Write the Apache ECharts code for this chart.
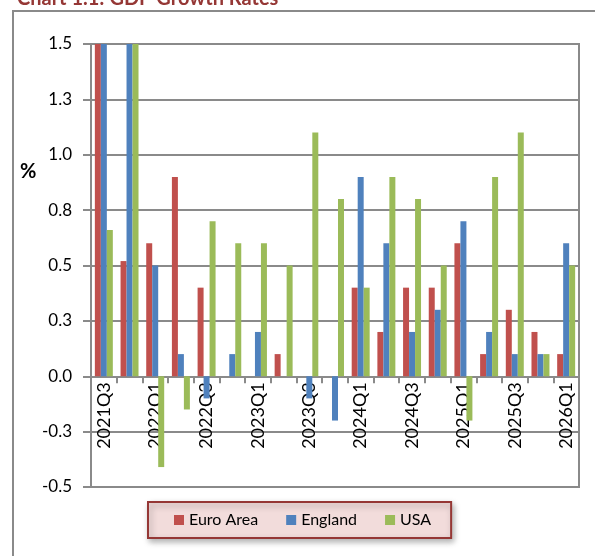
<!DOCTYPE html>
<html>
<head>
<meta charset="utf-8">
<script src="https://cdn.jsdelivr.net/npm/echarts@6/dist/echarts.min.js"></script>
<style>
  html, body { margin: 0; padding: 0; background: #fff; }
  #chart { width: 595px; height: 556px; }
</style>
</head>
<body>
<div id="chart"></div>
<script>
const categories = ["2021Q3", "2021Q4", "2022Q1", "2022Q2", "2022Q3", "2022Q4", "2023Q1", "2023Q2", "2023Q3", "2023Q4",
  "2024Q1", "2024Q2", "2024Q3", "2024Q4", "2025Q1", "2025Q2", "2025Q3", "2025Q4", "2026Q1"];

// quarterly growth, % (first bars run past the top of the axis)
const euroArea = [2.2, 0.52, 0.6, 0.9, 0.4, 0, 0, 0.1, 0, 0, 0.4, 0.2, 0.4, 0.4, 0.6, 0.1, 0.3, 0.2, 0.1];
const england = [1.7, 1.6, 0.5, 0.1, -0.1, 0.1, 0.2, 0, -0.1, -0.2, 0.9, 0.6, 0.2, 0.3, 0.7, 0.2, 0.1, 0.1, 0.6];
const usa = [0.66, 1.7, -0.41, -0.15, 0.7, 0.6, 0.6, 0.5, 1.1, 0.8, 0.4, 0.9, 0.8, 0.5, -0.2, 0.9, 1.1, 0.1, 0.5];

const seriesNames = ["Euro Area", "England", "USA"];
const yMin = -0.5;
const yMax = 1.5;
const yStep = 0.25;

const chart = echarts.init(document.getElementById("chart"));
const gray = "#8a8a8a";
const font = "Lato, 'Open Sans', sans-serif";

// grid box, the category axis sits on the zero line
const gridTop = 44;
const gridBottom = 69;
const gridHeight = 556 - gridTop - gridBottom;
const zeroOffset = -gridHeight * (0 - yMin) / (yMax - yMin);

const option = {
  animation: false,
  color: ["#c0504d", "#4f81bd", "#9bbb59"],
  title: {
    text: "Chart 1.1: GDP Growth Rates",
    left: 17,
    top: -11,
    padding: 0,
    textStyle: { color: "#953735", fontSize: 20, fontWeight: "bold", fontFamily: font },
  },
  graphic: [
    {
      type: "rect",
      shape: { x: 13, y: 11, width: 620, height: 600 },
      style: { fill: "none", stroke: gray, lineWidth: 2 },
      silent: true,
    },
    {
      type: "text",
      left: 20,
      top: 162,
      style: { text: "%", fill: "#000", font: "bold 20px " + font },
    },
  ],
  legend: {
    data: seriesNames,
    left: 148,
    top: 502,
    padding: [10, 20, 10, 26],
    itemGap: 28,
    itemWidth: 10,
    itemHeight: 10,
    icon: "rect",
    backgroundColor: "#f2dcdb",
    borderColor: "#953735",
    borderWidth: 2,
    shadowColor: "rgba(0,0,0,0.3)",
    shadowBlur: 6,
    shadowOffsetX: 2,
    shadowOffsetY: 3,
    textStyle: { color: "#000", fontSize: 16, fontFamily: font },
  },
  grid: {
    left: 91,
    right: 16,
    top: gridTop,
    bottom: gridBottom,
    outerBoundsMode: "none",
    containLabel: false,
    show: true,
    borderColor: gray,
    borderWidth: 2,
  },
  xAxis: {
    type: "category",
    data: categories,
    offset: zeroOffset,
    axisLine: { onZero: false, lineStyle: { color: gray, width: 2 } },
    axisTick: { show: true, interval: 0, length: 7, lineStyle: { color: gray, width: 2 } },
    axisLabel: {
      interval: 1,
      rotate: 90,
      margin: 6,
      color: "#000",
      fontSize: 18,
      fontFamily: font,
    },
  },
  yAxis: {
    type: "value",
    min: yMin,
    max: yMax,
    interval: yStep,
    axisLine: { show: true, lineStyle: { color: gray, width: 2 } },
    axisTick: { show: true, length: 8, lineStyle: { color: gray, width: 2 } },
    splitLine: { lineStyle: { color: gray, width: 2 } },
    axisLabel: {
      margin: 19,
      color: "#000",
      fontSize: 17,
      fontFamily: font,
      formatter: (v) => v.toFixed(1),
    },
  },
  series: [
    { name: seriesNames[0], type: "bar", data: euroArea, barGap: "0%", barCategoryGap: "30%", clip: true },
    { name: seriesNames[1], type: "bar", data: england, barGap: "0%", barCategoryGap: "30%", clip: true },
    { name: seriesNames[2], type: "bar", data: usa, barGap: "0%", barCategoryGap: "30%", clip: true },
  ],
};

chart.setOption(option);
</script>
</body>
</html>
